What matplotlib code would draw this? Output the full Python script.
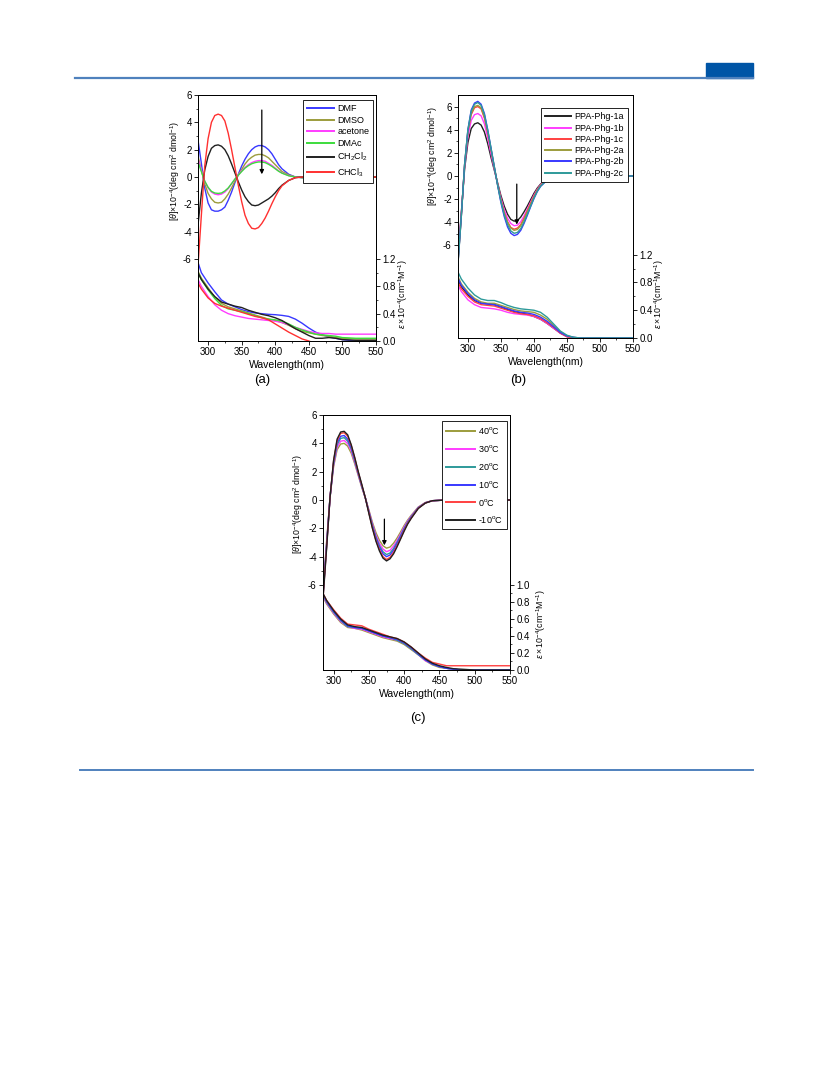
import matplotlib
matplotlib.use("Agg")
import matplotlib.pyplot as plt
from matplotlib.lines import Line2D
from matplotlib.patches import Rectangle

plt.rcParams['font.family'] = ['Liberation Sans', 'DejaVu Sans']
plt.rcParams['mathtext.fontset'] = 'custom'
plt.rcParams['mathtext.rm'] = 'Liberation Sans'
plt.rcParams['mathtext.it'] = 'Liberation Sans:italic'
plt.rcParams['mathtext.bf'] = 'Liberation Sans:bold'
plt.rcParams['axes.unicode_minus'] = False

W, H = 833, 1091

# ---------------- data ----------------
# CD wavelength grid (nm)
cd_wl = [285, 290, 295, 300, 305, 310, 315, 320, 325, 330, 335, 340, 345, 350, 355, 360,
         365, 370, 375, 380, 385, 390, 395, 400, 405, 410, 420, 430, 440, 460, 500, 550]
# UV wavelength grid (nm)
uv_wl = [285, 290, 300, 310, 320, 330, 340, 350, 360, 370, 380, 390, 400, 410, 420, 430,
         440, 450, 460, 470, 480, 490, 500, 520, 550]

# (a) solvents
a_labels = ["DMF", "DMSO", "acetone", "DMAc", "CH$_2$Cl$_2$", "CHCl$_3$"]
a_colors = ["#3838ff", "#9c9c3c", "#ff3cff", "#3cdc3c", "#202020", "#ff3030"]
a_cd_dmf = [2.7, 1.0, -0.8, -1.9, -2.4, -2.5, -2.5, -2.4, -2.2, -1.7, -1.1, -0.4, 0.2, 0.8, 1.3, 1.7,
            2.0, 2.2, 2.3, 2.3, 2.2, 2.0, 1.7, 1.3, 0.9, 0.6, 0.2, 0.0, -0.05, -0.05, 0.0, 0.0]
a_cd_dmso = [1.5, 0.5, -0.5, -1.2, -1.6, -1.85, -1.9, -1.85, -1.6, -1.25, -0.8, -0.3, 0.15, 0.55, 0.95, 1.25,
             1.45, 1.6, 1.65, 1.65, 1.55, 1.4, 1.15, 0.9, 0.65, 0.4, 0.15, 0.0, -0.05, -0.05, 0.0, 0.0]
a_cd_acetone = [1.3, 0.5, -0.3, -0.8, -1.1, -1.25, -1.3, -1.25, -1.1, -0.85, -0.5, -0.15, 0.15, 0.45, 0.7, 0.9,
                1.05, 1.15, 1.2, 1.2, 1.15, 1.0, 0.85, 0.65, 0.45, 0.3, 0.1, 0.0, -0.03, -0.03, 0.0, 0.0]
a_cd_dmac = [1.1, 0.4, -0.3, -0.75, -1.05, -1.17, -1.2, -1.17, -1.02, -0.8, -0.48, -0.15, 0.13, 0.4, 0.65, 0.83,
             0.97, 1.05, 1.1, 1.1, 1.05, 0.93, 0.78, 0.6, 0.42, 0.28, 0.09, 0.0, -0.04, -0.04, 0.0, 0.0]
a_cd_ch2cl2 = [-3.5, -1.2, 0.5, 1.5, 2.1, 2.3, 2.35, 2.25, 2.0, 1.55, 0.95, 0.3, -0.35, -0.95, -1.45, -1.8,
               -2.05, -2.1, -2.05, -1.9, -1.75, -1.6, -1.4, -1.15, -0.85, -0.6, -0.25, -0.05, 0.0, 0.0, 0.0, 0.0]
a_cd_chcl3 = [-6.5, -2.8, 0.8, 2.8, 4.0, 4.5, 4.6, 4.5, 4.1, 3.2, 2.0, 0.7, -0.6, -1.8, -2.8, -3.4,
              -3.75, -3.8, -3.7, -3.4, -3.0, -2.5, -1.95, -1.45, -1.0, -0.65, -0.25, -0.05, 0.0, 0.03, 0.0, 0.0]
a_uv_dmf = [1.15, 1.0, 0.85, 0.72, 0.6, 0.54, 0.5, 0.46, 0.43, 0.41, 0.4, 0.39, 0.385, 0.375, 0.36, 0.32,
            0.26, 0.19, 0.13, 0.09, 0.06, 0.04, 0.02, 0.0, 0.0]
a_uv_dmso = [1.02, 0.92, 0.78, 0.64, 0.55, 0.5, 0.47, 0.44, 0.41, 0.38, 0.35, 0.32, 0.3, 0.27, 0.23, 0.18,
             0.14, 0.12, 0.1, 0.08, 0.07, 0.05, 0.04, 0.03, 0.03]
a_uv_acetone = [0.9, 0.8, 0.65, 0.53, 0.45, 0.4, 0.37, 0.35, 0.33, 0.32, 0.31, 0.3, 0.29, 0.27, 0.24, 0.2,
                0.17, 0.14, 0.12, 0.11, 0.11, 0.1, 0.1, 0.1, 0.1]
a_uv_dmac = [1.0, 0.9, 0.75, 0.62, 0.52, 0.47, 0.45, 0.43, 0.4, 0.37, 0.34, 0.32, 0.31, 0.29, 0.25, 0.2,
             0.16, 0.13, 0.1, 0.09, 0.08, 0.07, 0.05, 0.04, 0.04]
a_uv_ch2cl2 = [1.0, 0.9, 0.76, 0.65, 0.57, 0.54, 0.51, 0.49, 0.45, 0.42, 0.39, 0.37, 0.34, 0.3, 0.24, 0.18,
               0.13, 0.08, 0.04, 0.04, 0.05, 0.04, 0.02, 0.01, 0.01]
a_uv_chcl3 = [0.85, 0.76, 0.63, 0.55, 0.51, 0.48, 0.45, 0.42, 0.39, 0.36, 0.34, 0.31, 0.25, 0.19, 0.13, 0.08,
              0.03, 0.0, -0.04, -0.08, -0.1, -0.12, -0.14, -0.16, -0.18]

# (b) polymers
b_labels = ["PPA-Phg-1a", "PPA-Phg-1b", "PPA-Phg-1c", "PPA-Phg-2a", "PPA-Phg-2b", "PPA-Phg-2c"]
b_colors = ["#202020", "#ff3cff", "#ff4040", "#9c9c3c", "#3838ff", "#2e9a9a"]
b_cd_1a = [-7.0, -3.2, 0.6, 2.9, 4.1, 4.5, 4.6, 4.4, 3.8, 2.8, 1.6, 0.5, -0.6, -1.7, -2.6, -3.3,
           -3.75, -3.9, -3.85, -3.55, -3.1, -2.6, -2.05, -1.5, -1.05, -0.7, -0.25, -0.05, 0.0, 0.0, 0.0, 0.0]
b_cd_1b = [-7.2, -3.3, 0.8, 3.4, 4.8, 5.3, 5.4, 5.2, 4.5, 3.3, 1.9, 0.6, -0.7, -1.9, -2.9, -3.65,
           -4.1, -4.3, -4.25, -3.95, -3.45, -2.85, -2.25, -1.65, -1.15, -0.75, -0.3, -0.07, 0.0, 0.0, 0.0, 0.0]
b_cd_1c = [-7.4, -3.4, 0.9, 3.8, 5.3, 5.9, 6.0, 5.8, 5.0, 3.7, 2.2, 0.7, -0.7, -2.05, -3.15, -3.95,
           -4.45, -4.6, -4.5, -4.2, -3.65, -3.0, -2.35, -1.75, -1.2, -0.8, -0.3, -0.08, 0.0, 0.0, 0.0, 0.0]
b_cd_2a = [-7.5, -3.5, 1.0, 3.9, 5.4, 6.0, 6.1, 5.9, 5.1, 3.8, 2.3, 0.75, -0.75, -2.1, -3.2, -4.0,
           -4.5, -4.7, -4.62, -4.3, -3.75, -3.1, -2.45, -1.8, -1.25, -0.82, -0.32, -0.08, 0.0, 0.0, 0.0, 0.0]
b_cd_2b = [-7.5, -3.5, 1.0, 4.0, 5.7, 6.3, 6.45, 6.2, 5.4, 4.0, 2.4, 0.8, -0.8, -2.3, -3.5, -4.4,
           -4.95, -5.15, -5.05, -4.7, -4.1, -3.4, -2.65, -1.95, -1.35, -0.9, -0.35, -0.1, 0.0, 0.0, 0.0, 0.0]
b_cd_2c = [-7.6, -3.5, 1.0, 4.0, 5.6, 6.2, 6.35, 6.1, 5.3, 3.95, 2.4, 0.8, -0.8, -2.2, -3.35, -4.2,
           -4.75, -4.95, -4.88, -4.55, -3.98, -3.3, -2.6, -1.92, -1.33, -0.88, -0.34, -0.09, 0.0, 0.0, 0.0, 0.0]
b_uv_1a = [0.84, 0.74, 0.62, 0.54, 0.5, 0.49, 0.48, 0.45, 0.41, 0.38, 0.36, 0.34, 0.31, 0.27, 0.21, 0.14,
           0.07, 0.02, 0.0, 0.0, 0.0, 0.0, 0.0, 0.0, 0.0]
b_uv_1b = [0.76, 0.67, 0.55, 0.48, 0.44, 0.43, 0.42, 0.4, 0.37, 0.35, 0.34, 0.33, 0.31, 0.27, 0.21, 0.14,
           0.07, 0.02, 0.0, 0.0, 0.0, 0.0, 0.0, 0.0, 0.0]
b_uv_1c = [0.8, 0.71, 0.6, 0.52, 0.48, 0.47, 0.46, 0.43, 0.4, 0.37, 0.35, 0.34, 0.32, 0.28, 0.22, 0.15,
           0.07, 0.02, 0.0, 0.0, 0.0, 0.0, 0.0, 0.0, 0.0]
b_uv_2a = [0.88, 0.78, 0.66, 0.57, 0.52, 0.5, 0.5, 0.47, 0.44, 0.41, 0.39, 0.38, 0.37, 0.33, 0.27, 0.18,
           0.09, 0.03, 0.01, 0.0, 0.0, 0.0, 0.0, 0.0, 0.0]
b_uv_2b = [0.86, 0.76, 0.64, 0.55, 0.5, 0.49, 0.48, 0.45, 0.42, 0.39, 0.37, 0.36, 0.34, 0.3, 0.24, 0.16,
           0.08, 0.03, 0.01, 0.0, 0.0, 0.0, 0.0, 0.0, 0.0]
b_uv_2c = [0.95, 0.85, 0.72, 0.62, 0.56, 0.54, 0.54, 0.51, 0.47, 0.44, 0.42, 0.41, 0.4, 0.37, 0.3, 0.2,
           0.1, 0.04, 0.01, 0.0, 0.0, 0.0, 0.0, 0.0, 0.0]

# (c) temperatures
c_labels = ["40$^{\\mathrm{o}}$C", "30$^{\\mathrm{o}}$C", "20$^{\\mathrm{o}}$C",
            "10$^{\\mathrm{o}}$C", "0$^{\\mathrm{o}}$C", "-10$^{\\mathrm{o}}$C"]
c_colors = ["#9c9c3c", "#ff3cff", "#2e9a9a", "#3838ff", "#ff4040", "#202020"]
c_cd_40 = [-6.5, -3.0, 0.2, 2.35, 3.55, 3.95, 4.0, 3.8, 3.3, 2.55, 1.72, 0.88, 0.15, -0.7, -1.57, -2.3,
           -2.85, -3.23, -3.4, -3.32, -3.05, -2.68, -2.25, -1.8, -1.41, -1.08, -0.5, -0.18, -0.05, 0.0, 0.0, 0.0]
c_cd_30 = [-6.6, -3.1, 0.2, 2.45, 3.72, 4.15, 4.2, 3.98, 3.45, 2.65, 1.78, 0.92, 0.15, -0.75, -1.68, -2.47,
           -3.05, -3.46, -3.65, -3.55, -3.25, -2.84, -2.38, -1.9, -1.48, -1.13, -0.52, -0.19, -0.05, 0.0, 0.0, 0.0]
c_cd_20 = [-6.7, -3.2, 0.2, 2.55, 3.9, 4.35, 4.4, 4.15, 3.6, 2.75, 1.85, 0.95, 0.15, -0.8, -1.78, -2.6,
           -3.22, -3.65, -3.85, -3.74, -3.42, -2.98, -2.5, -2.0, -1.55, -1.18, -0.54, -0.2, -0.05, 0.0, 0.0, 0.0]
c_cd_10 = [-6.8, -3.3, 0.2, 2.65, 4.05, 4.5, 4.55, 4.3, 3.7, 2.85, 1.9, 1.0, 0.15, -0.85, -1.85, -2.7,
           -3.35, -3.8, -4.0, -3.88, -3.55, -3.08, -2.58, -2.05, -1.6, -1.22, -0.56, -0.2, -0.05, 0.0, 0.0, 0.0]
c_cd_0 = [-6.9, -3.4, 0.2, 2.75, 4.2, 4.7, 4.75, 4.5, 3.85, 2.95, 1.95, 1.05, 0.15, -0.9, -1.95, -2.85,
          -3.5, -4.0, -4.2, -4.05, -3.7, -3.22, -2.7, -2.15, -1.65, -1.27, -0.58, -0.21, -0.05, 0.0, 0.0, 0.0]
c_cd_m10 = [-7.0, -3.5, 0.2, 2.8, 4.3, 4.8, 4.85, 4.6, 3.9, 3.0, 2.0, 1.1, 0.15, -0.95, -2.0, -2.9,
            -3.6, -4.1, -4.3, -4.15, -3.8, -3.3, -2.75, -2.2, -1.7, -1.3, -0.6, -0.22, -0.05, 0.0, 0.0, 0.0]
c_uv_40 = [0.86, 0.78, 0.66, 0.56, 0.5, 0.49, 0.47, 0.44, 0.41, 0.38, 0.36, 0.34, 0.3, 0.24, 0.18, 0.11,
           0.06, 0.03, 0.02, 0.01, 0.0, 0.0, 0.0, 0.0, 0.0]
c_uv_30 = [0.87, 0.79, 0.67, 0.57, 0.51, 0.49, 0.48, 0.45, 0.42, 0.39, 0.37, 0.35, 0.31, 0.25, 0.18, 0.11,
           0.07, 0.04, 0.02, 0.01, 0.0, 0.0, 0.0, 0.0, 0.0]
c_uv_20 = [0.88, 0.8, 0.68, 0.58, 0.51, 0.5, 0.49, 0.46, 0.43, 0.4, 0.38, 0.35, 0.31, 0.25, 0.18, 0.12,
           0.07, 0.04, 0.02, 0.01, 0.0, 0.0, 0.0, 0.0, 0.0]
c_uv_10 = [0.89, 0.81, 0.69, 0.59, 0.52, 0.5, 0.49, 0.46, 0.43, 0.4, 0.38, 0.36, 0.32, 0.26, 0.19, 0.12,
           0.07, 0.04, 0.02, 0.01, 0.0, 0.0, 0.0, 0.0, 0.0]
c_uv_0 = [0.9, 0.82, 0.71, 0.61, 0.54, 0.53, 0.52, 0.48, 0.45, 0.42, 0.39, 0.37, 0.33, 0.27, 0.2, 0.14,
          0.09, 0.07, 0.05, 0.05, 0.05, 0.05, 0.05, 0.05, 0.05]
c_uv_m10 = [0.9, 0.82, 0.7, 0.6, 0.53, 0.51, 0.5, 0.47, 0.44, 0.41, 0.39, 0.37, 0.33, 0.27, 0.2, 0.13,
            0.08, 0.05, 0.03, 0.015, 0.01, 0.005, 0.0, 0.0, 0.0]

a_cd = [a_cd_dmf, a_cd_dmso, a_cd_acetone, a_cd_dmac, a_cd_ch2cl2, a_cd_chcl3]
a_uv = [a_uv_dmf, a_uv_dmso, a_uv_acetone, a_uv_dmac, a_uv_ch2cl2, a_uv_chcl3]
b_cd = [b_cd_1a, b_cd_1b, b_cd_1c, b_cd_2a, b_cd_2b, b_cd_2c]
b_uv = [b_uv_1a, b_uv_1b, b_uv_1c, b_uv_2a, b_uv_2b, b_uv_2c]
c_cd = [c_cd_40, c_cd_30, c_cd_20, c_cd_10, c_cd_0, c_cd_m10]
c_uv = [c_uv_40, c_uv_30, c_uv_20, c_uv_10, c_uv_0, c_uv_m10]


def px_axes(fig, left, top, right, bottom):
    return fig.add_axes([left / W, 1 - bottom / H, (right - left) / W, (bottom - top) / H])


def draw_panel(fig, box, cd, uv, labels, colors, cd_lim, uv_lim, uv_ticks, uv_minor,
               arrow, leg_anchor, leg_spacing, lab_left, lab_right, hlen=2.8):
    ax = px_axes(fig, *box)
    ax2 = ax.twinx()
    for y, c, lab in zip(cd, colors, labels):
        ax.plot(cd_wl, y, color=c, lw=1.0, label=lab)
    for y, c in zip(uv, colors):
        ax2.plot(uv_wl, y, color=c, lw=1.0)
    ax.set_xlim(285, 550)
    ax.set_ylim(*cd_lim)
    ax2.set_ylim(*uv_lim)
    ax.set_xticks([300, 350, 400, 450, 500, 550])
    ax.set_xticks([325, 375, 425, 475, 525], minor=True)
    ax.set_yticks([-6, -4, -2, 0, 2, 4, 6])
    ax.set_yticks([-5, -3, -1, 1, 3, 5], minor=True)
    ax2.set_yticks(uv_ticks)
    ax2.set_yticklabels(["%.1f" % t for t in uv_ticks])
    ax2.set_yticks(uv_minor, minor=True)
    for a in (ax, ax2):
        a.tick_params(which='major', direction='out', length=3, width=0.6, labelsize=7, pad=1.5)
        a.tick_params(which='minor', direction='out', length=1.6, width=0.5)
        for s in a.spines.values():
            s.set_linewidth(0.7)
    ax.set_xlabel("Wavelength(nm)", fontsize=7.5, labelpad=2)
    ax.set_ylabel(r"[$\theta$]$\times$10$^{-4}$(deg cm$^2$ dmol$^{-1}$)", fontsize=6.3)
    ax.yaxis.set_label_coords(*lab_left)
    ax2.set_ylabel(r"$\varepsilon\times$10$^{-4}$(cm$^{-1}$M$^{-1}$)", fontsize=6.3, rotation=90)
    ax2.yaxis.set_label_coords(*lab_right)
    ax.annotate("", xy=(arrow[0], arrow[2]), xytext=(arrow[0], arrow[1]),
                arrowprops=dict(arrowstyle="-|>", color="black", lw=0.9,
                                mutation_scale=6, shrinkA=0, shrinkB=0))
    leg = ax.legend(loc="upper right", bbox_to_anchor=leg_anchor, fontsize=6.5,
                    frameon=True, fancybox=False, edgecolor="black", framealpha=1,
                    handlelength=hlen, handletextpad=0.4, labelspacing=leg_spacing,
                    borderpad=0.45, borderaxespad=0)
    leg.get_frame().set_linewidth(0.6)
    for h in leg.get_lines():
        h.set_linewidth(1.4)
    ax.set_zorder(ax2.get_zorder() + 1)
    ax.patch.set_visible(False)
    return ax


fig = plt.figure(figsize=(W / 100, H / 100), dpi=100)

# page decorations
fig.add_artist(Line2D([75 / W, 753 / W], [1 - 78 / H, 1 - 78 / H], color="#4f81bd", lw=1.6))
fig.add_artist(Rectangle((706 / W, 1 - 78 / H), 47 / W, 15 / H, color="#0055a6"))
fig.add_artist(Line2D([80 / W, 753 / W], [1 - 770 / H, 1 - 770 / H], color="#4f81bd", lw=1.4))

draw_panel(fig, (198, 95, 376, 341), a_cd, a_uv, a_labels, a_colors,
           (-12, 6), (0, 3.6), [0.0, 0.4, 0.8, 1.2], [0.2, 0.6, 1.0],
           (380, 4.9, 0.2), (0.985, 0.98), 0.3, (-0.09, 0.69), (1.115, 0.19), hlen=3.0)
draw_panel(fig, (458, 95, 633, 338), b_cd, b_uv, b_labels, b_colors,
           (-14, 7), (0, 3.5), [0.0, 0.4, 0.8, 1.2], [0.2, 0.6, 1.0],
           (374, -0.7, -4.2), (0.97, 0.945), 0.25, (-0.103, 0.75), (1.11, 0.18))
draw_panel(fig, (323, 415, 510, 670), c_cd, c_uv, c_labels, c_colors,
           (-12, 6), (0, 3.0), [0.0, 0.2, 0.4, 0.6, 0.8, 1.0], [0.1, 0.3, 0.5, 0.7, 0.9],
           (372, -1.35, -3.2), (0.985, 0.975), 0.75, (-0.096, 0.65), (1.13, 0.18), hlen=3.2)

fig.text(262 / W, 1 - 380 / H, "(a)", ha="center", va="center", fontsize=9.5)
fig.text(518 / W, 1 - 380 / H, "(b)", ha="center", va="center", fontsize=9.5)
fig.text(418 / W, 1 - 718 / H, "(c)", ha="center", va="center", fontsize=9.5)

fig.savefig("out.png", dpi=100)
